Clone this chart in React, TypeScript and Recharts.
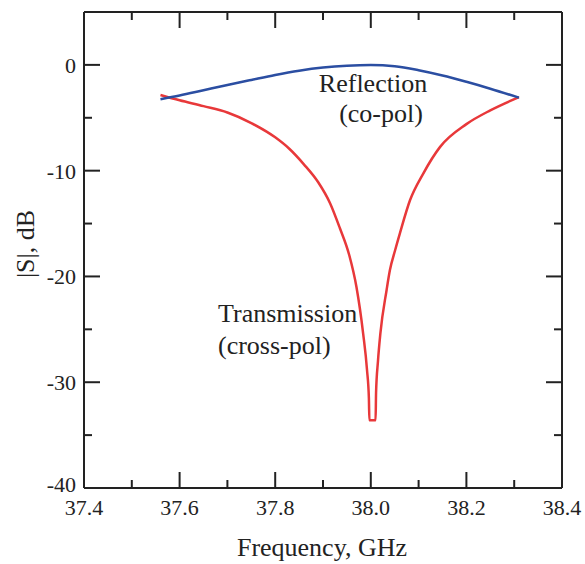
import { LineChart, Line, XAxis, YAxis } from 'recharts';

// reflection (co-pol)
const reflFreq = [37.56, 37.6, 37.65, 37.7, 37.75, 37.8, 37.85, 37.9, 37.95, 38.0, 38.05, 38.1, 38.15, 38.2, 38.25, 38.31];
const reflDb = [-3.25, -2.9, -2.4, -1.9, -1.42, -0.95, -0.55, -0.25, -0.07, 0, -0.12, -0.5, -1.0, -1.6, -2.25, -3.1];

// transmission (cross-pol)
const transFreq = [37.56, 37.6, 37.65, 37.7, 37.75, 37.8, 37.83, 37.86, 37.89, 37.915, 37.935, 37.955, 37.97, 37.984, 37.992, 37.996, 37.997,
  38.01, 38.011, 38.015, 38.02, 38.033, 38.04, 38.051, 38.061, 38.082, 38.11, 38.145, 38.2, 38.25, 38.31];
const transDb = [-2.85, -3.35, -3.9, -4.5, -5.5, -6.85, -7.95, -9.4, -11.1, -13.1, -15.4, -18.0, -21.0, -25.4, -28.8, -31.5, -33.6,
  -33.6, -31.0, -28.0, -25.4, -21.3, -19.4, -17.5, -15.9, -12.8, -10.25, -7.75, -5.6, -4.3, -3.05];

const xTicks = [37.4, 37.5, 37.6, 37.7, 37.8, 37.9, 38.0, 38.1, 38.2, 38.3, 38.4];
const yTicks = [-40, -35, -30, -25, -20, -15, -10, -5, 0];

const reflection = reflFreq.map((f, i) => ({ f, db: reflDb[i] }));
const transmission = transFreq.map((f, i) => ({ f, db: transDb[i] }));

const ink = '#222';
const serif = '"Liberation Serif", "Times New Roman", serif';

const isMajorX = (v: number) => Math.round(v * 10) % 2 === 0;
const isMajorY = (v: number) => Math.round(v) % 10 === 0;

function BottomTick({ x, y, payload }: any) {
  const major = isMajorX(payload.value);
  return (
    <g>
      <line x1={x} y1={y} x2={x} y2={y - (major ? 16 : 8)} stroke={ink} strokeWidth={2} />
      {major && (
        <text x={x} y={y + 27} textAnchor="middle" fontSize={22} fontFamily={serif} fill={ink}>
          {payload.value.toFixed(1)}
        </text>
      )}
    </g>
  );
}

function TopTick({ x, y, payload }: any) {
  const major = isMajorX(payload.value);
  return <line x1={x} y1={y} x2={x} y2={y + (major ? 16 : 8)} stroke={ink} strokeWidth={2} />;
}

function LeftTick({ x, y, payload }: any) {
  const major = isMajorY(payload.value);
  // the bottom label is nudged up a little so it clears 37.4
  const dy = payload.value === -40 ? 4 : 8;
  return (
    <g>
      <line x1={x} y1={y} x2={x + (major ? 16 : 8)} y2={y} stroke={ink} strokeWidth={2} />
      {major && (
        <text x={x - 8} y={y + dy} textAnchor="end" fontSize={22} fontFamily={serif} fill={ink}>
          {payload.value}
        </text>
      )}
    </g>
  );
}

function RightTick({ x, y, payload }: any) {
  const major = isMajorY(payload.value);
  return <line x1={x} y1={y} x2={x - (major ? 16 : 8)} y2={y} stroke={ink} strokeWidth={2} />;
}

const axisLine = { stroke: ink, strokeWidth: 2 };

export default function App() {
  return (
    <div style={{ position: 'absolute', left: 0, top: 0, background: '#fff' }}>
      <LineChart width={585} height={564} margin={{ top: 2, right: 13, bottom: 36, left: 24 }}>
        <XAxis dataKey="f" type="number" domain={[37.4, 38.4]} ticks={xTicks} interval={0}
          height={40} tickSize={0} tickMargin={0} tickLine={false} axisLine={axisLine}
          tick={<BottomTick />} allowDataOverflow />
        <XAxis xAxisId="top" orientation="top" dataKey="f" type="number" domain={[37.4, 38.4]} ticks={xTicks} interval={0}
          height={10} tickSize={0} tickMargin={0} tickLine={false} axisLine={axisLine}
          tick={<TopTick />} allowDataOverflow />
        <YAxis type="number" domain={[-40, 5]} ticks={yTicks} interval={0}
          width={60} tickSize={0} tickMargin={0} tickLine={false} axisLine={axisLine}
          tick={<LeftTick />} allowDataOverflow />
        <YAxis yAxisId="right" orientation="right" type="number" domain={[-40, 5]} ticks={yTicks} interval={0}
          width={10} tickSize={0} tickMargin={0} tickLine={false} axisLine={axisLine}
          tick={<RightTick />} allowDataOverflow />
        <Line data={transmission} dataKey="db" type="monotone" stroke="#e8383a" strokeWidth={2.5}
          dot={false} activeDot={false} isAnimationActive={false} />
        <Line data={reflection} dataKey="db" type="monotone" stroke="#2b4ea2" strokeWidth={2.5}
          dot={false} activeDot={false} isAnimationActive={false} />
        <text x={373} y={92} textAnchor="middle" fontSize={26} fontFamily={serif} fill={ink}>Reflection</text>
        <text x={381} y={122} textAnchor="middle" fontSize={26} fontFamily={serif} fill={ink}>(co-pol)</text>
        <text x={218} y={322} fontSize={26} fontFamily={serif} fill={ink}>Transmission</text>
        <text x={218} y={354} fontSize={26} fontFamily={serif} fill={ink}>(cross-pol)</text>
        <text x={322} y={556} textAnchor="middle" fontSize={26} fontFamily={serif} fill={ink}>Frequency, GHz</text>
        <text x={34} y={244} textAnchor="middle" fontSize={26} fontFamily={serif} fill={ink}
          transform="rotate(-90 34 244)">|S|, dB</text>
      </LineChart>
    </div>
  );
}
